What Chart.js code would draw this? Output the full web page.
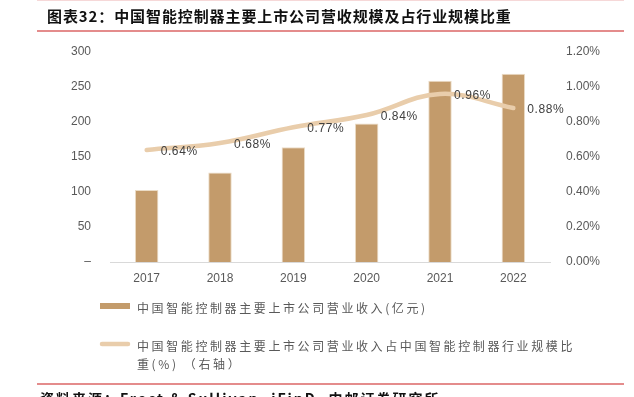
<!DOCTYPE html>
<html>
<head>
<meta charset="utf-8">
<script src="https://cdn.jsdelivr.net/npm/chart.js@4"></script>
<style>
  html, body { margin: 0; padding: 0; background: #fff; }
  canvas { display: block; }
</style>
</head>
<body>
<canvas id="chart" width="634" height="397"></canvas>
<script>
// data
const years = ['2017', '2018', '2019', '2020', '2021', '2022'];
const revenue = [103, 128, 164, 198, 259, 269];          // 亿元
const shareOfIndustry = [0.64, 0.68, 0.77, 0.84, 0.96, 0.88]; // %
const leftTickLabels = ['–', '50', '100', '150', '200', '250', '300'];
const rightTickLabels = ['0.00%', '0.20%', '0.40%', '0.60%', '0.80%', '1.00%', '1.20%'];

const titleText = '图表32：中国智能控制器主要上市公司营收规模及占行业规模比重';
const sourceText = '资料来源：Frost & Sullivan, iFinD, 中邮证券研究所';
const barLabel = '中国智能控制器主要上市公司营业收入(亿元)';
const lineLabel = '中国智能控制器主要上市公司营业收入占中国智能控制器行业规模比重(%) （右轴）';

const BAR_COLOR = '#C39B6B';
const LINE_COLOR = '#E9CDAB';
const TICK_COLOR = '#595959';
const CJK = '"Noto Sans CJK SC", "Noto Sans", sans-serif';
const NUM = '"Liberation Sans", Arial, sans-serif';

// title, red rules, custom legend and source line
const decorations = {
    id: 'decorations',
    beforeDraw(chart) {
        const ctx = chart.ctx;
        ctx.save();
        ctx.fillStyle = '#fff';
        ctx.fillRect(0, 0, chart.width, chart.height);

        ctx.strokeStyle = '#F6D8D8';
        ctx.lineWidth = 1;
        ctx.beginPath();
        ctx.moveTo(37, 0.5);
        ctx.lineTo(624, 0.5);
        ctx.stroke();

        ctx.strokeStyle = '#E48C8C';
        ctx.lineWidth = 2;
        ctx.beginPath();
        ctx.moveTo(37, 31);
        ctx.lineTo(624, 31);
        ctx.moveTo(37, 384);
        ctx.lineTo(624, 384);
        ctx.stroke();

        ctx.fillStyle = '#111';
        ctx.font = 'bold 15px ' + CJK;
        ctx.textBaseline = 'middle';
        ctx.textAlign = 'left';
        ctx.letterSpacing = '0.9px';
        ctx.fillText(titleText, 47, 16);

        ctx.font = 'bold 14px ' + CJK;
        ctx.letterSpacing = '2px';
        ctx.fillText(sourceText, 40, 399);
        ctx.restore();
    },
    afterDraw(chart) {
        const ctx = chart.ctx;
        ctx.save();
        ctx.font = '12px ' + CJK;
        ctx.fillStyle = TICK_COLOR;
        ctx.textBaseline = 'middle';
        ctx.textAlign = 'left';
        ctx.letterSpacing = '2.6px';

        // bar entry
        const bar = chart.data.datasets[1];
        ctx.fillStyle = bar.backgroundColor;
        ctx.fillRect(100, 303, 30, 6);
        ctx.fillStyle = TICK_COLOR;
        ctx.fillText(bar.label, 137, 308);

        // line entry, wrapped
        const line = chart.data.datasets[0];
        ctx.strokeStyle = line.borderColor;
        ctx.lineWidth = 4.5;
        ctx.lineCap = 'round';
        ctx.beginPath();
        ctx.moveTo(102, 344);
        ctx.lineTo(128, 344);
        ctx.stroke();

        const maxW = 450;
        const rows = [];
        let row = '';
        for (const ch of line.label) {
            if (ctx.measureText(row + ch).width > maxW) {
                rows.push(row);
                row = ch;
            } else {
                row += ch;
            }
        }
        rows.push(row);
        rows.forEach((r, i) => ctx.fillText(r, 137, 346 + i * 18));
        ctx.restore();
    }
};

// value labels for the share line
const lineLabels = {
    id: 'lineLabels',
    afterDatasetsDraw(chart) {
        const ctx = chart.ctx;
        const meta = chart.getDatasetMeta(0);
        ctx.save();
        ctx.font = '12px ' + NUM;
        ctx.fillStyle = '#404040';
        ctx.textBaseline = 'middle';
        ctx.textAlign = 'left';
        ctx.letterSpacing = '0.6px';
        meta.data.forEach((pt, i) => {
            ctx.fillText(shareOfIndustry[i].toFixed(2) + '%', pt.x + 14, pt.y + 1.5);
        });
        ctx.restore();
    }
};

const ctx = document.getElementById('chart').getContext('2d');
const chart = new Chart(ctx, {
    data: {
        labels: years,
        datasets: [
            {
                type: 'line',
                label: lineLabel,
                data: shareOfIndustry,
                yAxisID: 'y1',
                borderColor: LINE_COLOR,
                borderWidth: 4.5,
                borderCapStyle: 'round',
                tension: 0.4,
                pointRadius: 0,
                order: 0
            },
            {
                type: 'bar',
                label: barLabel,
                data: revenue,
                yAxisID: 'y',
                backgroundColor: BAR_COLOR,
                borderColor: '#EBDCC6',
                borderWidth: 1,
                barPercentage: 0.32,
                categoryPercentage: 1,
                order: 1
            }
        ]
    },
    options: {
        responsive: false,
        animation: false,
        layout: { padding: { top: 52, left: 0, right: 0, bottom: 0 } },
        plugins: {
            legend: { display: false },
            tooltip: { enabled: false }
        },
        scales: {
            x: {
                grid: { display: false, drawTicks: false },
                border: { display: true, color: '#D9D9D9', width: 1 },
                ticks: { color: TICK_COLOR, font: { family: NUM, size: 12 }, padding: 9 },
                afterFit(scale) { scale.height = 135; }
            },
            y: {
                position: 'left',
                min: 0,
                max: 300,
                grid: { display: false, drawTicks: false },
                border: { display: false },
                ticks: {
                    stepSize: 50,
                    color: TICK_COLOR,
                    font: { family: NUM, size: 12 },
                    padding: 19,
                    callback: (v, i) => leftTickLabels[i]
                },
                afterFit(scale) { scale.width = 110; }
            },
            y1: {
                position: 'right',
                min: 0,
                max: 1.2,
                grid: { display: false, drawTicks: false },
                border: { display: false },
                ticks: {
                    stepSize: 0.2,
                    color: TICK_COLOR,
                    font: { family: NUM, size: 12 },
                    padding: 16,
                    callback: (v, i) => rightTickLabels[i]
                },
                afterFit(scale) { scale.width = 84; }
            }
        }
    },
    plugins: [decorations, lineLabels]
});
</script>
</body>
</html>
